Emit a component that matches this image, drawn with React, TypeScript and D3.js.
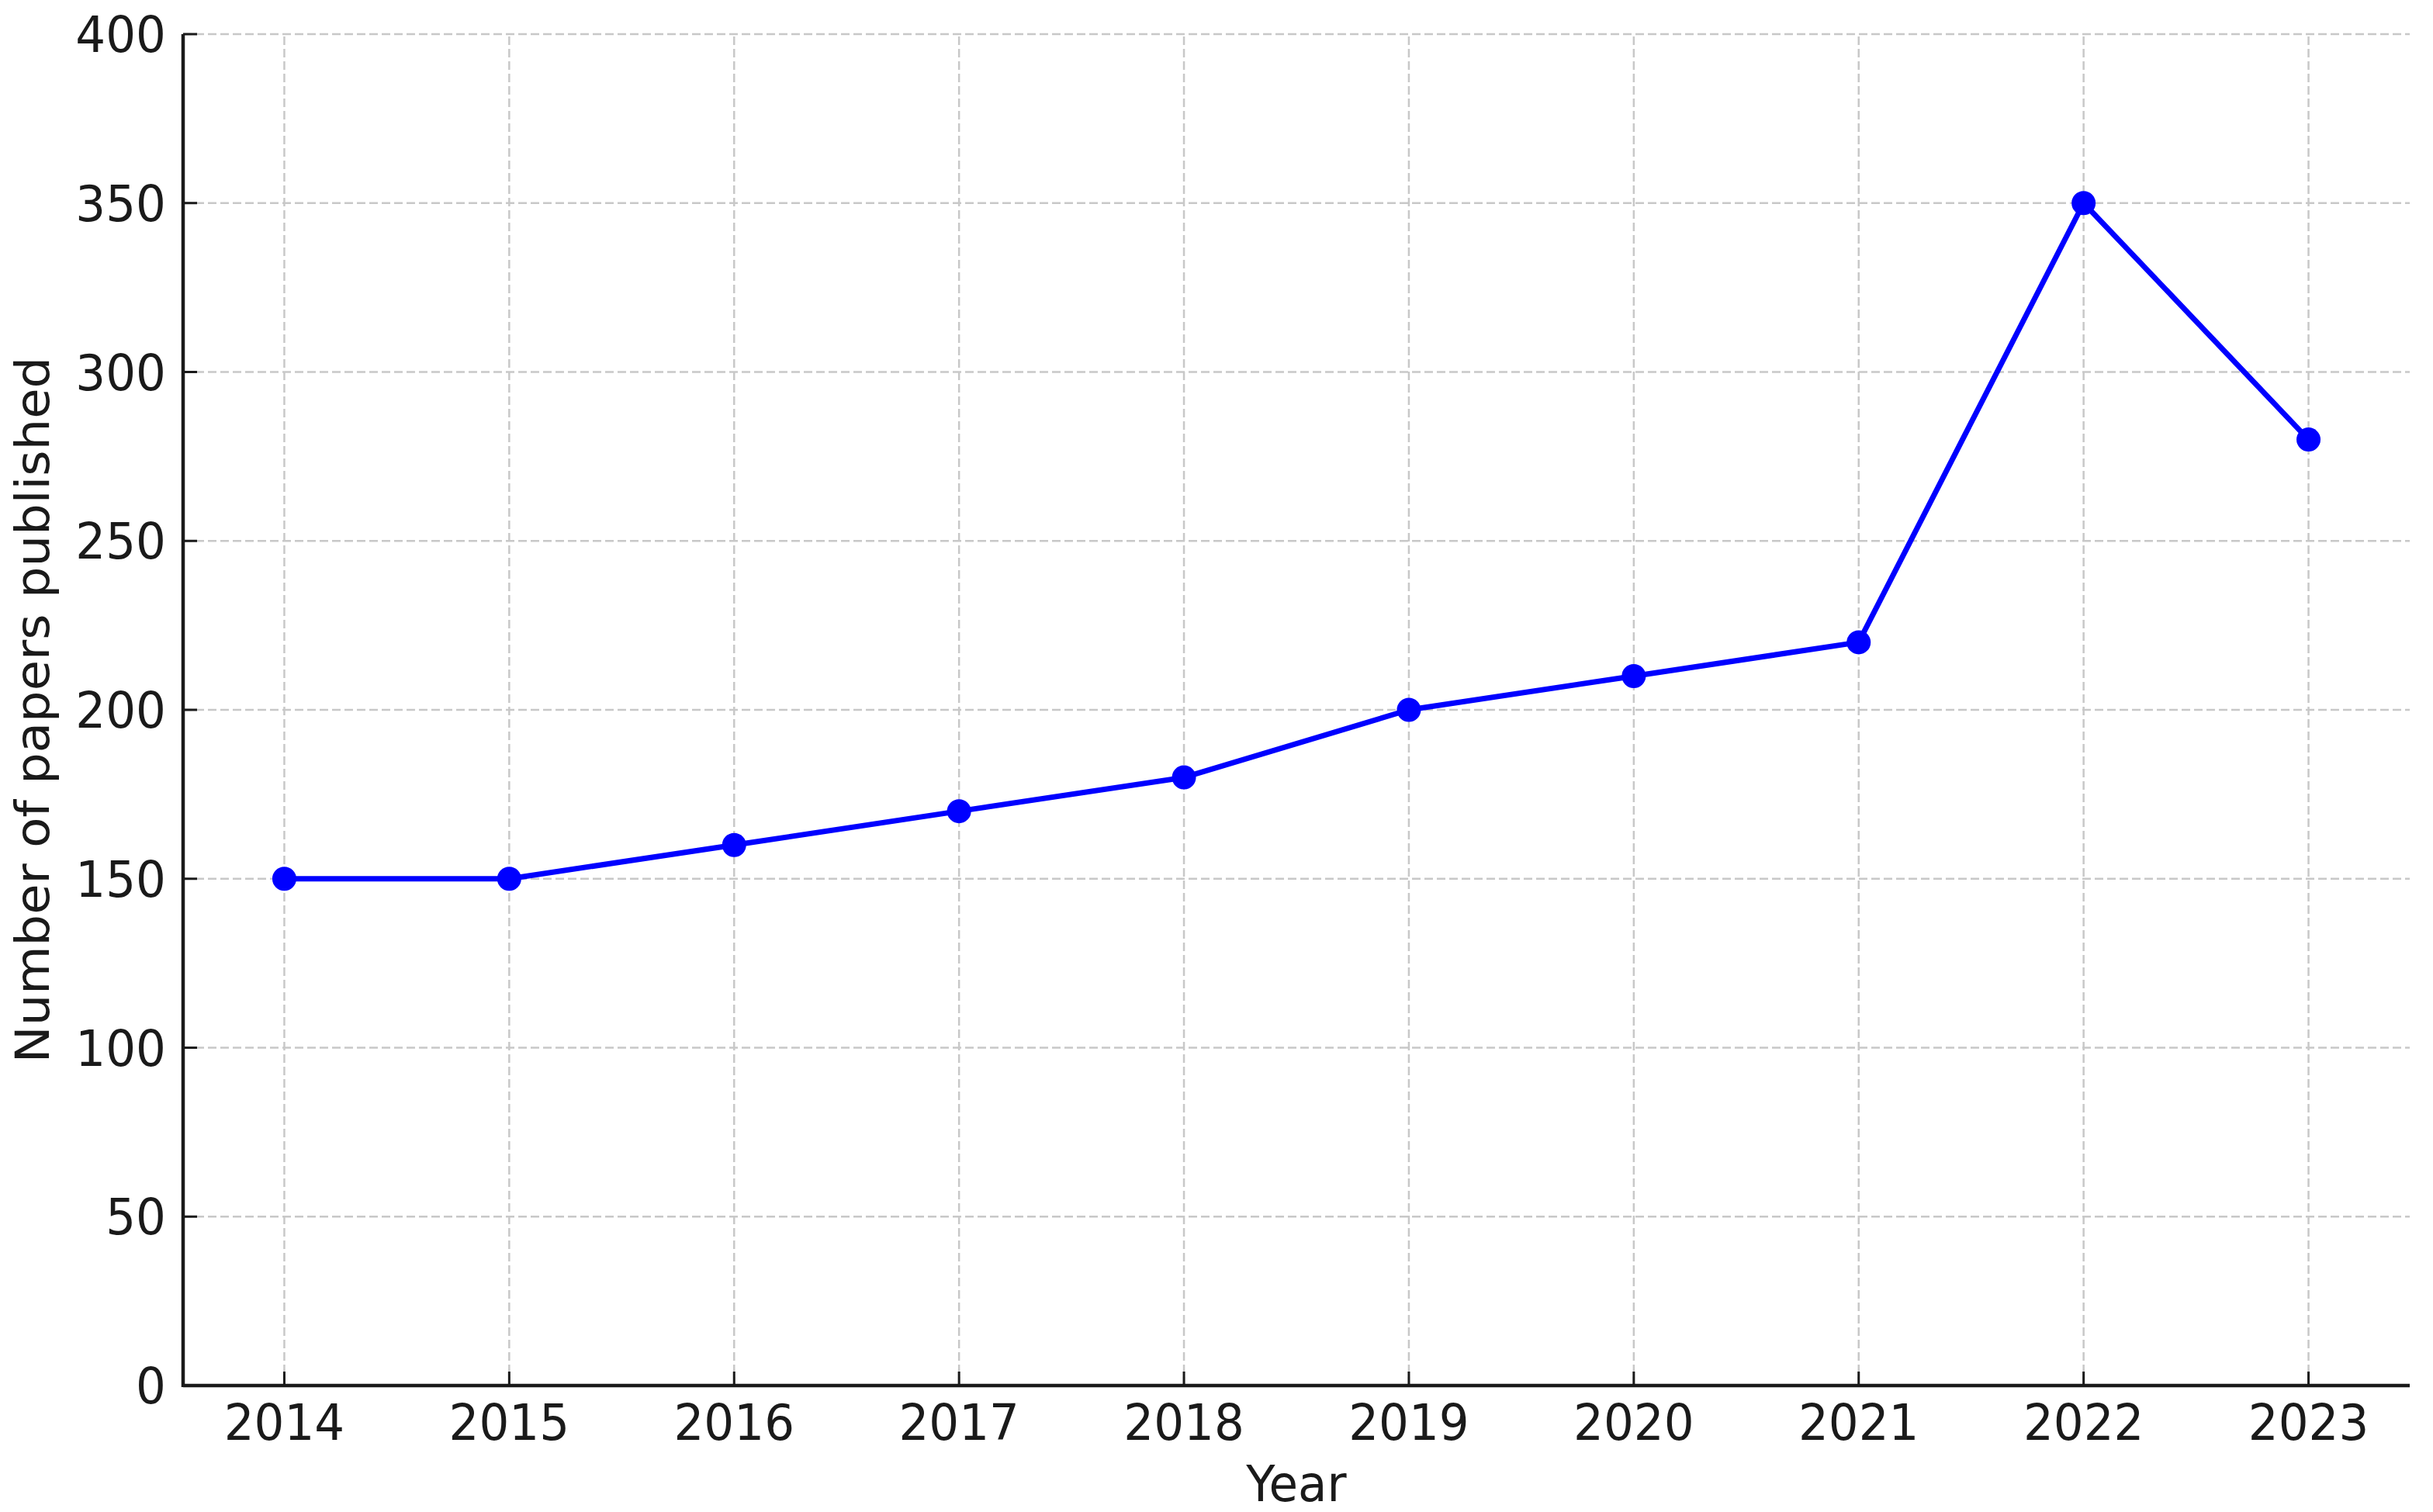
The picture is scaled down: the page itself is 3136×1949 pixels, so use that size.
import React from 'react';
import * as d3 from 'd3';

const years = [2014, 2015, 2016, 2017, 2018, 2019, 2020, 2021, 2022, 2023];
const papers = [150, 150, 160, 170, 180, 200, 210, 220, 350, 280];
const yTicks = [0, 50, 100, 150, 200, 250, 300, 350, 400];

const W = 3136;
const H = 1949;
const margin = { top: 44, right: 30, bottom: 163, left: 236 };
const FONT = 'DejaVu Sans, sans-serif';
const SX = 0.955; // the picture is squeezed a little sideways
const TEXT = '#1a1a1a';

export default function App() {
  // x: matplotlib style 5% padding on both ends
  const pad = (years[years.length - 1] - years[0]) * 0.05;
  const x = d3.scaleLinear()
    .domain([years[0] - pad, years[years.length - 1] + pad])
    .range([margin.left, W - margin.right]);

  const y = d3.scaleLinear()
    .domain([0, 400])
    .range([H - margin.bottom, margin.top]);

  const line = d3.line<number>()
    .x((_, i) => x(years[i]))
    .y(d => y(d));

  const x0 = margin.left;
  const x1 = W - margin.right;
  const y0 = H - margin.bottom;
  const y1 = margin.top;

  return (
    <svg width={W} height={H} style={{ position: 'absolute', left: 0, top: 0, background: '#fff' }}>
      {/* grid */}
      <g stroke="#c8c8c8" strokeWidth={2.5} strokeDasharray="11 5">
        {yTicks.map(t => (
          <line key={'gy' + t} x1={x0} x2={x1} y1={y(t)} y2={y(t)} />
        ))}
        {years.map(t => (
          <line key={'gx' + t} x1={x(t)} x2={x(t)} y1={y0} y2={y1} />
        ))}
      </g>

      {/* series */}
      <path d={line(papers) || ''} fill="none" stroke="#0000ff" strokeWidth={7} strokeLinejoin="round" />
      {papers.map((v, i) => (
        <circle key={'p' + i} cx={x(years[i])} cy={y(v)} r={15.5} fill="#0000ff" />
      ))}

      {/* spines */}
      <line x1={x0} x2={x1} y1={y0} y2={y0} stroke={TEXT} strokeWidth={4.5} />
      <line x1={x0} x2={x0} y1={y0 + 2} y2={y1} stroke={TEXT} strokeWidth={4.5} />

      {/* y ticks */}
      {yTicks.map(t => (
        <g key={'yt' + t}>
          <line x1={x0} x2={x0 + 18} y1={y(t)} y2={y(t)} stroke={TEXT} strokeWidth={3} />
          <text
            transform={`translate(214,${y(t)}) scale(${SX},1)`}
            textAnchor="end"
            dy="0.36em"
            fontFamily={FONT}
            fontSize={64}
            fill={TEXT}
          >
            {t}
          </text>
        </g>
      ))}

      {/* x ticks */}
      {years.map(t => (
        <g key={'xt' + t}>
          <line x1={x(t)} x2={x(t)} y1={y0} y2={y0 - 18} stroke={TEXT} strokeWidth={3} />
          <text
            transform={`translate(${x(t)},1856) scale(${SX},1)`}
            textAnchor="middle"
            fontFamily={FONT}
            fontSize={64}
            fill={TEXT}
          >
            {t}
          </text>
        </g>
      ))}

      {/* axis titles */}
      <text
        transform={`translate(${(x0 + x1) / 2},1935) scale(${SX},1)`}
        textAnchor="middle"
        fontFamily={FONT}
        fontSize={64}
        fill={TEXT}
      >
        Year
      </text>
      <text
        transform={`translate(63,${(y0 + y1) / 2}) scale(${SX},1) rotate(-90)`}
        textAnchor="middle"
        fontFamily={FONT}
        fontSize={64}
        fill={TEXT}
      >
        Number of papers published
      </text>
    </svg>
  );
}
